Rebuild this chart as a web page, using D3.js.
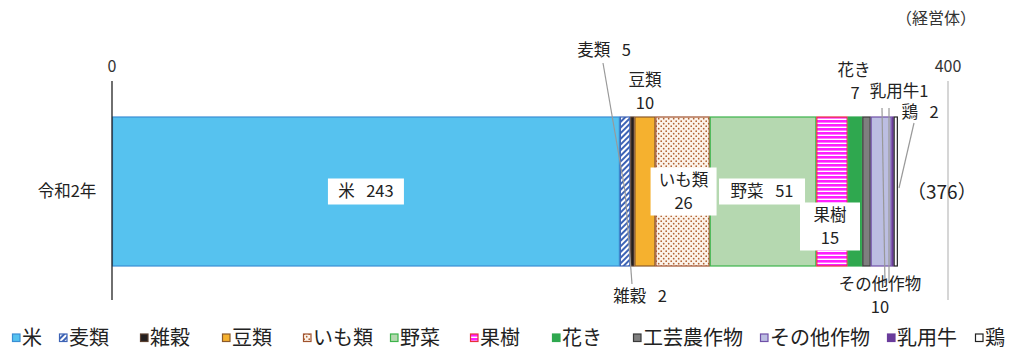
<!DOCTYPE html>
<html>
<head>
<meta charset="utf-8">
<script src="https://cdn.jsdelivr.net/npm/d3@7"></script>
<style>
  html, body { margin: 0; padding: 0; background: #fff; }
  svg { display: block; font-family: "Noto Sans CJK JP", "Noto Sans", sans-serif; }
</style>
</head>
<body>
<svg id="chart" width="1010" height="350"></svg>
<script>
// 農業経営体数（主位部門別）
const rowLabel = "令和2年";
const categories = ["米", "麦類", "雑穀", "豆類", "いも類", "野菜", "果樹", "花き", "工芸農作物", "その他作物", "乳用牛", "鶏"];
const values = [243, 5, 2, 10, 26, 51, 15, 7, 4, 10, 1, 2];
const total = 376;
const axisTicks = [0, 400];
const unitLabel = "（経営体）";

const fills = ["#56c2ef", "url(#hatch)", "#231f20", "#f5b12f", "url(#dots)", "#b5d8b0", "url(#stripes)", "#2fa84f", "#7f7f7f", "#bcbee2", "#6a3c9c", "#ffffff"];
const strokes = ["#3a8ed4", "#3d63b5", "#5a4030", "#8b5a2b", "#a0522d", "#3cb44b", "#e8303a", "#2fa84f", "#3a3a3a", "#7050a8", "#6a3c9c", "#222222"];

const SP = "\u2002\u2009"; // 名称と数値の間隔

const svg = d3.select("#chart");
const defs = svg.append("defs");

// 斜線（麦類）
const hatch = defs.append("pattern").attr("id", "hatch").attr("patternUnits", "userSpaceOnUse")
  .attr("width", 4).attr("height", 4).attr("patternTransform", "rotate(45)");
hatch.append("rect").attr("width", 4).attr("height", 4).attr("fill", "#ffffff");
hatch.append("rect").attr("width", 2).attr("height", 4).attr("fill", "#3d63b5");

// 点描（いも類）
const dots = defs.append("pattern").attr("id", "dots").attr("patternUnits", "userSpaceOnUse")
  .attr("width", 5).attr("height", 5);
dots.append("rect").attr("width", 5).attr("height", 5).attr("fill", "#fcf3ea");
dots.append("circle").attr("cx", 1.2).attr("cy", 1.2).attr("r", 0.85).attr("fill", "#b0602f");
dots.append("circle").attr("cx", 3.7).attr("cy", 3.7).attr("r", 0.85).attr("fill", "#b0602f");

// 横縞（果樹）
const stripes = defs.append("pattern").attr("id", "stripes").attr("patternUnits", "userSpaceOnUse")
  .attr("width", 4).attr("height", 4);
stripes.append("rect").attr("width", 4).attr("height", 4).attr("fill", "#ffffff");
stripes.append("rect").attr("width", 4).attr("height", 2.6).attr("fill", "#ff1fff");

const x = d3.scaleLinear().domain([0, 400]).range([112, 948]);
const y = d3.scaleBand().domain([rowLabel]).range([117, 266]).padding(0);

// 積み上げ位置
let acc = 0;
const segs = categories.map((c, i) => {
  const s = { name: c, value: values[i], x0: acc, x1: acc + values[i], fill: fills[i], stroke: strokes[i] };
  acc += values[i];
  return s;
});
const seg = Object.fromEntries(segs.map(s => [s.name, s]));
const mid = s => x((s.x0 + s.x1) / 2);
const yTop = y(rowLabel), yMid = yTop + y.bandwidth() / 2;

// 目盛線
svg.append("line").attr("x1", x(400)).attr("x2", x(400)).attr("y1", 81).attr("y2", 300)
  .attr("stroke", "#c8c8c8").attr("stroke-width", 1.5);

// 棒
svg.append("g").selectAll("rect").data(segs).join("rect")
  .attr("x", d => x(d.x0) + 0.5)
  .attr("y", yTop)
  .attr("width", d => Math.max(0, x(d.x1) - x(d.x0) - 1))
  .attr("height", y.bandwidth())
  .attr("fill", d => d.fill)
  .attr("stroke", d => d.stroke)
  .attr("stroke-width", 1.2);

// 軸線と目盛ラベル
svg.append("line").attr("x1", x(0)).attr("x2", x(0)).attr("y1", 81).attr("y2", 300)
  .attr("stroke", "#222").attr("stroke-width", 1.3);
svg.append("g").selectAll("text").data(axisTicks).join("text")
  .attr("x", d => x(d)).attr("y", 72).attr("text-anchor", "middle")
  .attr("font-size", 16).attr("fill", "#333").text(d => d);

svg.append("text").attr("x", 976).attr("y", 24).attr("text-anchor", "end")
  .attr("font-size", 16).attr("fill", "#333").text(unitLabel);

svg.append("text").attr("x", 67).attr("y", yMid).attr("dy", "0.35em").attr("text-anchor", "middle")
  .attr("font-size", 16.5).attr("fill", "#222").text(rowLabel);

svg.append("text").attr("x", 907).attr("y", yMid + 1).attr("dy", "0.35em")
  .attr("font-size", 19).attr("fill", "#222").text(`（${total}）`);

// 引出線
const leader = (x1, y1, x2, y2) => svg.append("line")
  .attr("x1", x1).attr("y1", y1).attr("x2", x2).attr("y2", y2)
  .attr("stroke", "#999").attr("stroke-width", 1.2);
leader(603, 63, mid(seg["麦類"]), yMid);
leader(mid(seg["麦類"]), yMid, 632, 284);
leader(882, 108, 885, 283);
leader(889, 108, 889, 283);
leader(914, 123, 899, 188);

// 棒内ラベル（白地）
function boxLabel(cx, cy, lines, w, h) {
  const g = svg.append("g");
  g.append("rect").attr("x", cx - w / 2).attr("y", cy - h / 2).attr("width", w).attr("height", h).attr("fill", "#fff");
  const lh = 23;
  lines.forEach((t, i) => {
    g.append("text").attr("x", cx).attr("y", cy + (i - (lines.length - 1) / 2) * lh)
      .attr("dy", "0.36em").attr("text-anchor", "middle")
      .attr("font-size", 16.5).attr("fill", "#222").text(t);
  });
}
boxLabel(mid(seg["米"]), yMid, [`米${SP}${seg["米"].value}`], 76, 26);
boxLabel(mid(seg["いも類"]) + 1, yMid, ["いも類", `${seg["いも類"].value}`], 66, 48);
boxLabel(mid(seg["野菜"]) - 1, yMid, [`野菜${SP}${seg["野菜"].value}`], 86, 26);
boxLabel(mid(seg["果樹"]) - 2, yMid + 35, ["果樹", `${seg["果樹"].value}`], 60, 48);

// 棒外ラベル
function plain(cx, cy, t, anchor = "middle") {
  svg.append("text").attr("x", cx).attr("y", cy).attr("dy", "0.36em").attr("text-anchor", anchor)
    .attr("font-size", 16.5).attr("fill", "#222").text(t);
}
plain(604, 50, `麦類${SP}${seg["麦類"].value}`);
plain(mid(seg["豆類"]), 80, "豆類");
plain(mid(seg["豆類"]), 103, `${seg["豆類"].value}`);
plain(640, 296, `雑穀${SP}${seg["雑穀"].value}`);
plain(mid(seg["花き"]) - 1, 70, "花き");
plain(mid(seg["花き"]), 93, `${seg["花き"].value}`);
plain(899, 91, `乳用牛${seg["乳用牛"].value}`);
plain(920, 112.5, `鶏${SP}${seg["鶏"].value}`);
plain(880, 284, "その他作物");
plain(880, 307, `${seg["その他作物"].value}`);

// 凡例
const legendX = [12, 59, 140, 222, 303, 390, 470, 552, 633, 760, 887, 975];
const lg = svg.append("g").selectAll("g").data(segs).join("g")
  .attr("transform", (d, i) => `translate(${legendX[i]},338)`);
lg.append("rect").attr("x", 0.5).attr("y", -4).attr("width", 7.5).attr("height", 7.5)
  .attr("fill", d => d.fill).attr("stroke", d => d.stroke).attr("stroke-width", 1.2);
lg.append("text").attr("x", 10).attr("y", 0).attr("dy", "0.36em")
  .attr("font-size", 20).attr("fill", "#222").text(d => d.name);
</script>
</body>
</html>
